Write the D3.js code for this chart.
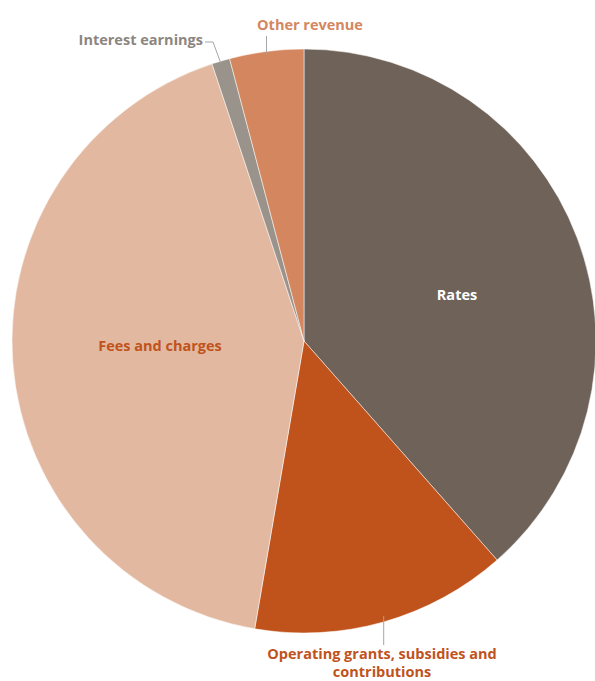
<!DOCTYPE html>
<html>
<head>
<meta charset="utf-8">
<script src="https://cdn.jsdelivr.net/npm/d3@7.9.0/dist/d3.min.js"></script>
<style>
  body { margin: 0; background: #fff; }
  svg { display: block; font-family: 'Open Sans', Lato, sans-serif; font-weight: bold; }
</style>
</head>
<body>
<svg id="chart" width="595" height="681"></svg>
<script>
const categories = ['Rates', 'Operating grants, subsidies and contributions', 'Fees and charges', 'Interest earnings', 'Other revenue'];
const values = [38.5, 14.2, 42.2, 1.0, 4.1];
const sliceColors = ['#6e6259', '#c0531c', '#e3b8a0', '#9a938c', '#d4875f'];
const labelColors = ['#ffffff', '#c0531c', '#c0531c', '#8c8580', '#d4875f'];

const width = 595, height = 681;
const cx = 304, cy = 341, radius = 292;

const data = categories.map((c, i) => ({ name: c, value: values[i], i }));

const svg = d3.select('#chart');
const g = svg.append('g').attr('transform', `translate(${cx},${cy})`);

const pie = d3.pie().sort(null).value(d => d.value);
const arcs = pie(data);
const arc = d3.arc().innerRadius(0).outerRadius(radius);

g.selectAll('path')
  .data(arcs)
  .join('path')
  .attr('d', arc)
  .attr('fill', d => sliceColors[d.data.i])
  .attr('stroke', '#fff')
  .attr('stroke-width', 0.5);

// point on the rim at the middle angle of a slice
function rim(d, r) {
  const a = (d.startAngle + d.endAngle) / 2;
  return [Math.sin(a) * r, -Math.cos(a) * r];
}

const leader = g.append('g')
  .attr('fill', 'none')
  .attr('stroke', '#a6a6a6')
  .attr('stroke-width', 1);

const labels = g.append('g').attr('font-size', 14.5);

// Rates, inside
labels.append('text')
  .attr('x', 457 - cx).attr('y', 300 - cy)
  .attr('text-anchor', 'middle')
  .attr('fill', labelColors[0])
  .text('Rates');

// Fees and charges, inside
labels.append('text')
  .attr('x', 160 - cx).attr('y', 351 - cy)
  .attr('text-anchor', 'middle')
  .attr('fill', labelColors[2])
  .text(categories[2]);

// Operating grants, below
{
  const p = rim(arcs[1], radius);
  leader.append('path').attr('d', `M${p[0]},${p[1] - 6}L${p[0]},${645 - cy}`);
  const t = labels.append('text')
    .attr('text-anchor', 'middle')
    .attr('fill', labelColors[1]);
  t.append('tspan').attr('x', 382 - cx).attr('y', 659 - cy).text('Operating grants, subsidies and');
  t.append('tspan').attr('x', 382 - cx).attr('y', 677 - cy).text('contributions');
}

// Interest earnings, top left
{
  const p = rim(arcs[3], radius);
  leader.append('path').attr('d', `M${p[0]},${p[1] + 2}L${213 - cx},${42 - cy}L${205 - cx},${42 - cy}`);
  labels.append('text')
    .attr('x', 203 - cx).attr('y', 45 - cy)
    .attr('text-anchor', 'end')
    .attr('fill', labelColors[3])
    .text(categories[3]);
}

// Other revenue, top
{
  const p = rim(arcs[4], radius);
  leader.append('path').attr('d', `M${p[0]},${p[1] + 2}L${p[0]},${36 - cy}`);
  labels.append('text')
    .attr('x', 310 - cx).attr('y', 30 - cy)
    .attr('text-anchor', 'middle')
    .attr('fill', labelColors[4])
    .text(categories[4]);
}
</script>
</body>
</html>
